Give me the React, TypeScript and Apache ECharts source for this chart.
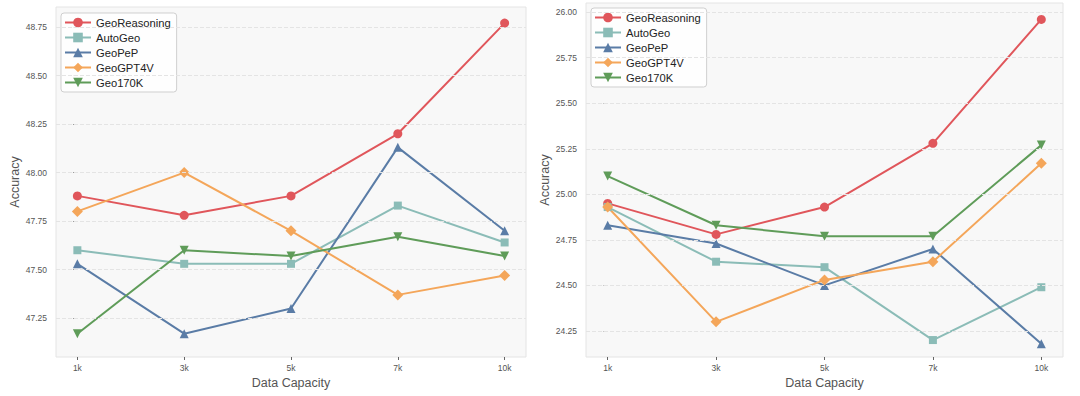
import React, { useEffect, useRef } from "react";
import * as echarts from "echarts";

const categories = ["1k", "3k", "5k", "7k", "10k"];
const seriesNames = ["GeoReasoning", "AutoGeo", "GeoPeP", "GeoGPT4V", "Geo170K"];

// Left panel
const leftGeoReasoning = [47.88, 47.78, 47.88, 48.2, 48.77];
const leftAutoGeo = [47.6, 47.53, 47.53, 47.83, 47.64];
const leftGeoPeP = [47.53, 47.17, 47.3, 48.13, 47.7];
const leftGeoGPT4V = [47.8, 48.0, 47.7, 47.37, 47.47];
const leftGeo170K = [47.17, 47.6, 47.57, 47.67, 47.57];
const leftTicks = [47.25, 47.5, 47.75, 48.0, 48.25, 48.5, 48.75];

// Right panel
const rightGeoReasoning = [24.95, 24.78, 24.93, 25.28, 25.96];
const rightAutoGeo = [24.93, 24.63, 24.6, 24.2, 24.49];
const rightGeoPeP = [24.83, 24.73, 24.5, 24.7, 24.18];
const rightGeoGPT4V = [24.93, 24.3, 24.53, 24.63, 25.17];
const rightGeo170K = [25.1, 24.83, 24.77, 24.77, 25.27];
const rightTicks = [24.25, 24.5, 24.75, 25.0, 25.25, 25.5, 25.75, 26.0];

const colors = ["#e0565b", "#8bbcb7", "#5a7ca6", "#f4a65a", "#5f9c59"];
const symbols = ["circle", "rect", "triangle", "diamond", "path://M0,0L10,0L5,9Z"];
const symbolSizes = [9, 8, 9, 11, 9];

const FONT = "Liberation Sans, Arial, sans-serif";

export default function App() {
  const ref = useRef<HTMLDivElement>(null);
  useEffect(() => {
    if (!ref.current) return;
    const chart = echarts.init(ref.current, null, { renderer: "svg" });
    const panels = [
      {
        data: [leftGeoReasoning, leftAutoGeo, leftGeoPeP, leftGeoGPT4V, leftGeo170K],
        ticks: leftTicks,
        min: 47.05,
        max: 48.853,
        grid: { left: 56, top: 7, width: 470, height: 350 },
        legend: { left: 61, top: 13 },
      },
      {
        data: [rightGeoReasoning, rightAutoGeo, rightGeoPeP, rightGeoGPT4V, rightGeo170K],
        ticks: rightTicks,
        min: 24.107,
        max: 26.05,
        grid: { left: 586, top: 3, width: 477, height: 354 },
        legend: { left: 591, top: 8 },
      },
    ];

    const grid: any[] = [];
    const xAxis: any[] = [];
    const yAxis: any[] = [];
    const legend: any[] = [];
    const series: any[] = [];
    const xIdx = categories.map((_, i) => i);

    panels.forEach((p, pi) => {
      grid.push({
        ...p.grid,
        show: true,
        backgroundColor: "#f8f8f8",
        borderColor: "#e4e4e4",
        borderWidth: 1,
        containLabel: false,
      });
      xAxis.push({
        type: "value",
        gridIndex: pi,
        min: -0.2,
        max: 4.2,
        name: "Data Capacity",
        nameLocation: "middle",
        nameGap: 19,
        nameTextStyle: { fontFamily: FONT, fontSize: 12.5, color: "#555" },
        axisLine: { show: false },
        splitLine: { show: false },
        axisTick: { show: true, customValues: xIdx, length: 3, lineStyle: { color: "#666" } },
        axisLabel: {
          customValues: xIdx,
          formatter: (v: number) => categories[Math.round(v)],
          fontFamily: FONT,
          fontSize: 8.5,
          color: "#555",
          margin: 6,
        },
      });
      yAxis.push({
        type: "value",
        gridIndex: pi,
        min: p.min,
        max: p.max,
        name: "Accuracy",
        nameLocation: "middle",
        nameGap: 35,
        nameTextStyle: { fontFamily: FONT, fontSize: 12.5, color: "#555" },
        axisLine: { show: false },
        splitLine: { show: false },
        axisTick: { show: true, customValues: p.ticks, length: 4, lineStyle: { color: "#666" } },
        axisLabel: {
          customValues: p.ticks,
          formatter: (v: number) => v.toFixed(2),
          fontFamily: FONT,
          fontSize: 8.5,
          color: "#555",
          margin: 9,
        },
      });
      legend.push({
        ...p.legend,
        orient: "vertical",
        data: seriesNames,
        itemWidth: 26,
        itemHeight: 12,
        itemGap: 4,
        padding: [4, 6, 4, 3],
        backgroundColor: "rgba(255,255,255,0.85)",
        borderColor: "#cfcfcf",
        borderWidth: 1,
        borderRadius: 3,
        textStyle: { fontFamily: FONT, fontSize: 11.2, color: "#222" },
        selectedMode: false,
      });
      // gridlines
      series.push({
        type: "line",
        xAxisIndex: pi,
        yAxisIndex: pi,
        data: [],
        silent: true,
        z: 1,
        markLine: {
          silent: true,
          symbol: ["none", "none"],
          label: { show: false },
          lineStyle: { type: "dashed", color: "#e4e4e4", width: 1 },
          data: p.ticks.map((t) => ({ yAxis: t })),
        },
      });
      p.data.forEach((vals, si) => {
        series.push({
          type: "line",
          name: seriesNames[si],
          xAxisIndex: pi,
          yAxisIndex: pi,
          data: vals.map((v, i) => [i, v]),
          symbol: symbols[si],
          symbolSize: symbolSizes[si],
          z: 3,
          lineStyle: { color: colors[si], width: 2 },
          itemStyle: { color: colors[si] },
        });
      });
    });

    chart.setOption({
      animation: false,
      textStyle: { fontFamily: FONT },
      grid,
      xAxis,
      yAxis,
      legend,
      series,
    });
    return () => chart.dispose();
  }, []);
  return (
    <div
      ref={ref}
      style={{ position: "absolute", left: 0, top: 0, width: 1080, height: 396, background: "#fff" }}
    />
  );
}
